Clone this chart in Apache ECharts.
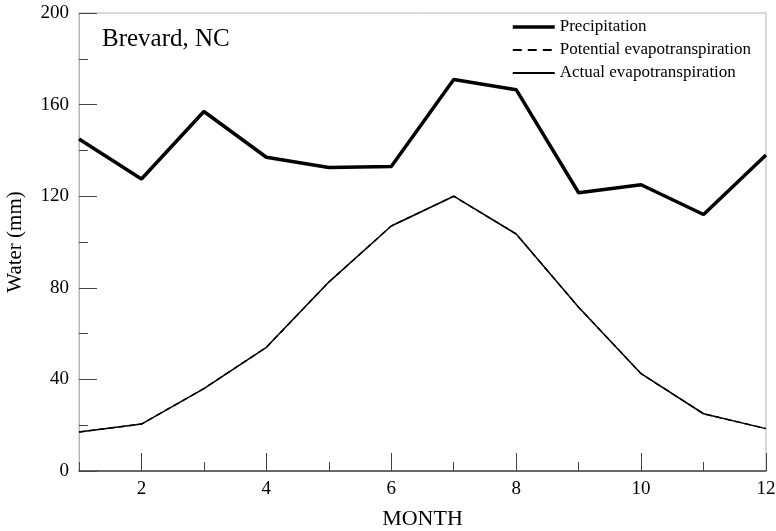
<!DOCTYPE html>
<html>
<head>
<meta charset="utf-8">
<script src="https://cdn.jsdelivr.net/npm/echarts@6/dist/echarts.min.js"></script>
<style>
  html, body { margin: 0; padding: 0; background: #fff; }
  #chart { width: 776px; height: 531px; }
</style>
</head>
<body>
<div id="chart"></div>
<script>
const months = ["1", "2", "3", "4", "5", "6", "7", "8", "9", "10", "11", "12"];
const precipitation = [145, 127.5, 157, 137, 132.5, 133, 171, 166.5, 121.5, 125, 112, 138];
// potential ET lies under the actual ET line in the picture
const potentialET = [17, 20.5, 36, 54, 82.5, 107, 120, 103.5, 71.5, 42.5, 25, 18.5];
const actualET = [17, 20.5, 36, 54, 82.5, 107, 120, 103.5, 71.5, 42.5, 25, 18.5];

const font = "Liberation Serif";
const isEven = (i) => (i + 1) % 2 === 0;

const chart = echarts.init(document.getElementById("chart"), null, { renderer: "canvas" });

const option = {
  animation: false,
  textStyle: { fontFamily: font, color: "#000" },
  title: {
    text: "Brevard, NC",
    left: 97,
    top: 22,
    textStyle: { fontFamily: font, fontSize: 25, fontWeight: "normal", color: "#000" },
  },
  legend: {
    orient: "vertical",
    left: 506,
    top: 13,
    itemWidth: 42,
    itemHeight: 14,
    itemGap: 5,
    itemStyle: { opacity: 0 },
    textStyle: { fontFamily: font, fontSize: 17, color: "#000", lineHeight: 18 },
    data: [
      { name: "Precipitation", lineStyle: { width: 3.5, color: "#000" } },
      { name: "Potential evapotranspiration", lineStyle: { width: 2, color: "#000", type: [9, 6] } },
      { name: "Actual evapotranspiration", lineStyle: { width: 2, color: "#000" } },
    ],
  },
  grid: {
    left: 79,
    right: 10,
    top: 13,
    bottom: 60,
    outerBoundsMode: "none",
    show: true,
    borderColor: "#b5b5b5",
    borderWidth: 1,
  },
  xAxis: [
    {
      type: "category",
      data: months,
      boundaryGap: false,
      name: "MONTH",
      nameLocation: "middle",
      nameGap: 37,
      nameTextStyle: { fontFamily: font, fontSize: 22, color: "#000" },
      axisLine: { lineStyle: { color: "#444", width: 1.5 } },
      axisTick: { inside: true, length: 9, interval: 0, lineStyle: { color: "#444" } },
      axisLabel: {
        interval: (i) => isEven(i),
        margin: 9,
        fontFamily: font,
        fontSize: 19,
        color: "#000",
      },
      splitLine: { show: false },
    },
    {
      type: "category",
      data: months,
      boundaryGap: false,
      position: "bottom",
      axisLine: { show: false },
      axisTick: { inside: true, length: 18, interval: (i) => isEven(i), lineStyle: { color: "#444" } },
      axisLabel: { show: false },
      splitLine: { show: false },
    },
  ],
  yAxis: {
    type: "value",
    min: 0,
    max: 200,
    interval: 40,
    name: "Water (mm)",
    nameLocation: "middle",
    nameGap: 53,
    nameTextStyle: { fontFamily: font, fontSize: 21, color: "#000" },
    axisLine: { show: true, lineStyle: { color: "#b5b5b5" } },
    axisTick: { show: true, inside: true, length: 18, lineStyle: { color: "#444" } },
    minorTick: { show: true, splitNumber: 2, length: 9, lineStyle: { color: "#444" } },
    axisLabel: { margin: 10, fontFamily: font, fontSize: 19, color: "#000" },
    splitLine: { show: false },
  },
  series: [
    {
      name: "Potential evapotranspiration",
      type: "line",
      data: potentialET,
      symbol: "none",
      z: 1,
      lineStyle: { color: "#000", width: 1.5, type: [6, 4] },
      itemStyle: { color: "#000" },
    },
    {
      name: "Actual evapotranspiration",
      type: "line",
      data: actualET,
      symbol: "none",
      z: 2,
      lineStyle: { color: "#000", width: 1.5 },
      itemStyle: { color: "#000" },
    },
    {
      name: "Precipitation",
      type: "line",
      data: precipitation,
      symbol: "none",
      z: 3,
      lineStyle: { color: "#000", width: 3.5 },
      itemStyle: { color: "#000" },
    },
  ],
};

chart.setOption(option);
</script>
</body>
</html>
